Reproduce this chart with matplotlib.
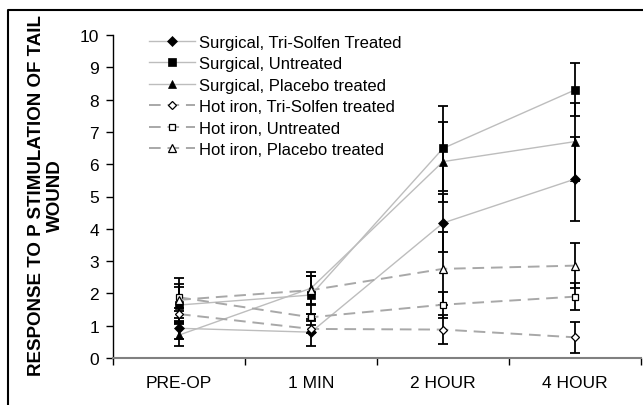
import matplotlib
matplotlib.use("Agg")
import matplotlib.pyplot as plt
import numpy as np

plt.rcParams['font.family'] = ['Liberation Sans', 'DejaVu Sans']

categories = ["PRE-OP", "1 MIN", "2 HOUR", "4 HOUR"]
series_names = [
    "Surgical, Tri-Solfen Treated",
    "Surgical, Untreated",
    "Surgical, Placebo treated",
    "Hot iron, Tri-Solfen treated",
    "Hot iron, Untreated",
    "Hot iron, Placebo treated",
]
surg_tri = [0.92, 0.80, 4.18, 5.54]
surg_tri_err = [0.33, 0.42, 0.91, 1.29]
surg_unt = [1.64, 1.95, 6.49, 8.30]
surg_unt_err = [0.55, 0.60, 1.32, 0.82]
surg_pla = [0.71, 2.16, 6.08, 6.70]
surg_pla_err = [0.35, 0.49, 1.24, 1.21]
hot_tri = [1.36, 0.90, 0.88, 0.64]
hot_tri_err = [0.20, 0.12, 0.45, 0.49]
hot_unt = [1.88, 1.26, 1.65, 1.90]
hot_unt_err = [0.41, 0.10, 0.40, 0.42]
hot_pla = [1.80, 2.10, 2.76, 2.86]
hot_pla_err = [0.68, 0.45, 1.13, 0.70]

values = [surg_tri, surg_unt, surg_pla, hot_tri, hot_unt, hot_pla]
errors = [surg_tri_err, surg_unt_err, surg_pla_err, hot_tri_err, hot_unt_err, hot_pla_err]
markers = ["D", "s", "^", "D", "s", "^"]
msizes = [5, 5.5, 6, 4.5, 5, 5.5]
filled = [True, True, True, False, False, False]
styles = ["-", "-", "-", (0, (6, 3.5)), (0, (6, 3.5)), (0, (6, 3.5))]
lcolors = ["#bdbdbd", "#bdbdbd", "#bdbdbd", "#a8a8a8", "#a8a8a8", "#a8a8a8"]
lwidths = [1.0, 1.0, 1.0, 1.4, 1.4, 1.4]

fig = plt.figure(figsize=(6.43, 4.06), dpi=100)
ax = fig.add_axes([113/643, 47/406, 528/643, 323/406])

x = np.arange(len(categories))
handles = []
for i in range(len(values)):
    ax.errorbar(x, values[i], yerr=errors[i], fmt='none', ecolor='black',
                elinewidth=1.3, capsize=3.8, capthick=1.3, zorder=3)
for i in range(len(values)):
    h, = ax.plot(x, values[i], linestyle=styles[i], color=lcolors[i], lw=lwidths[i],
                 marker=markers[i], markersize=msizes[i],
                 markerfacecolor='black' if filled[i] else 'white',
                 markeredgecolor='black', markeredgewidth=0.9 if not filled[i] else 0.5,
                 label=series_names[i], zorder=4)
    handles.append(h)

ax.set_xlim(-0.5, len(categories) - 0.5)
ax.set_ylim(0, 10)
ax.set_yticks(np.arange(0, 11, 1))
ax.set_xticks(x)
ax.set_xticklabels(categories)
ax.set_xticks(np.arange(-0.5, len(categories), 1), minor=True)
ax.tick_params(axis='x', which='major', length=0, labelsize=12.5, pad=12)
ax.tick_params(axis='x', which='minor', length=5, width=1, color='black', direction='out')
ax.tick_params(axis='y', length=5, width=1, labelsize=12.5, direction='out', pad=5)
for s in ['top', 'right']:
    ax.spines[s].set_visible(False)
ax.spines['left'].set_color('black')
ax.spines['left'].set_linewidth(1.0)
ax.spines['bottom'].set_color('#808080')
ax.spines['bottom'].set_linewidth(1.5)

ax.set_ylabel("RESPONSE TO P STIMULATION OF TAIL\nWOUND", fontsize=13.5,
              fontweight='bold', linespacing=1.15)
ax.yaxis.set_label_coords(-0.092, 0.505)

leg = ax.legend(handles=handles, loc='upper left', bbox_to_anchor=(0.055, 1.022),
                frameon=False, fontsize=12, handlelength=2.8, handletextpad=0.2,
                labelspacing=0.39, borderaxespad=0)

# outer chart frame (left and top edges visible in the picture)
fx = 7.5 / 643
fy = (406 - 10.5) / 406
ax.plot([fx, fx, 1.0], [0.0, fy, fy], color='black', lw=1.5,
        transform=fig.transFigure, clip_on=False, zorder=10)

fig.savefig("out.png", dpi=100)
